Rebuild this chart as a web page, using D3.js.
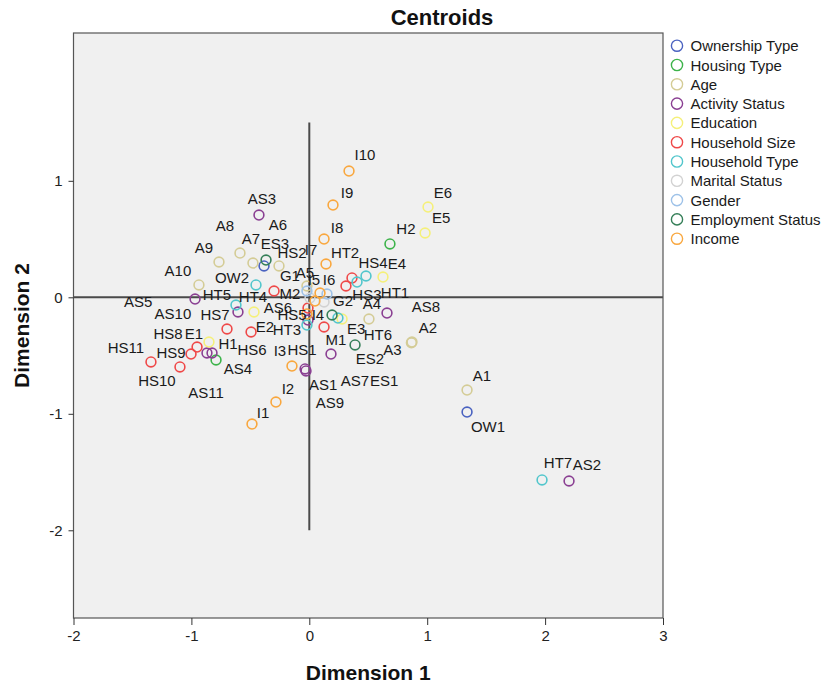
<!DOCTYPE html>
<html><head><meta charset="utf-8">
<script src="https://cdn.jsdelivr.net/npm/d3@7"></script>
<style>
body{margin:0;background:#fff;}
svg{display:block;}
text{font-family:"Liberation Sans",Arial,Helvetica,sans-serif;}
</style>
</head><body>
<svg id="chart" width="824" height="685"></svg>
<script>
// ---------------- data ----------------
const categories = ["Ownership Type","Housing Type","Age","Activity Status","Education",
  "Household Size","Household Type","Marital Status","Gender","Employment Status","Income"];
const xTicks = [-2,-1,0,1,2,3];
const yTicks = [-2,-1,0,1];

const pointLabels = [
  "OW1","OW2",
  "H1","H2",
  "A1","A2","A3","A4","A5","A6","A7","A8","A9","A10",
  "AS1","AS2","AS3","AS4","AS5","AS6","AS7","AS8","AS9","AS10","AS11",
  "E1","E2","E3","E4","E5","E6",
  "HS1","HS2","HS3","HS4","HS5","HS6","HS7","HS8","HS9","HS10","HS11",
  "HT1","HT2","HT3","HT4","HT5","HT6","HT7",
  "M1","M2",
  "G1","G2",
  "ES1","ES2","ES3",
  "I1","I2","I3","I4","I5","I6","I7","I8","I9","I10"
];
const pointCategory = [
  0,0,
  1,1,
  2,2,2,2,2,2,2,2,2,2,
  3,3,3,3,3,3,3,3,3,3,3,
  4,4,4,4,4,4,
  5,5,5,5,5,5,5,5,5,5,5,
  6,6,6,6,6,6,6,
  7,7,
  8,8,
  9,9,9,
  10,10,10,10,10,10,10,10,10,10
];
const dimension1 = [
  1.338,-0.384,
  -0.791,0.684,
  1.338,0.871,0.866,0.506,-0.020,-0.257,-0.478,-0.588,-0.766,-0.936,
  -0.036,2.203,-0.427,-0.825,-0.969,-0.011,0.184,0.659,-0.028,-0.605,-0.868,
  -0.851,-0.469,0.278,0.625,0.982,1.007,
  0.125,-0.299,0.311,0.362,-0.011,-0.494,-0.698,-0.952,-1.003,-1.097,-1.343,
  0.481,0.405,-0.020,-0.452,-0.622,0.243,1.974,
  0.125,0.006,
  -0.020,0.150,
  0.193,0.388,-0.367,
  -0.486,-0.283,-0.147,-0.020,0.048,0.091,0.142,0.125,0.201,0.337
];
const dimension2 = [
  -0.985,0.269,
  -0.538,0.458,
  -0.796,-0.384,-0.390,-0.186,0.097,0.269,0.294,0.380,0.303,0.106,
  -0.615,-1.577,0.706,-0.478,-0.015,-0.195,-0.487,-0.135,-0.632,-0.126,-0.478,
  -0.384,-0.126,-0.186,0.174,0.552,0.775,
  -0.255,0.054,0.097,0.166,-0.092,-0.298,-0.272,-0.427,-0.487,-0.598,-0.555,
  0.183,0.131,-0.238,0.106,-0.066,-0.178,-1.568,
  -0.040,-0.006,
  0.054,0.028,
  -0.152,-0.409,0.320,
  -1.088,-0.899,-0.590,-0.143,-0.032,0.037,0.286,0.500,0.792,1.084
];

// ---------------- styles / layout ----------------
const categoryColors = ["#4a62c0","#3cb34a","#d4cc96","#8a3f92","#f5f07a","#ef4848",
  "#52c6cc","#d2d2d2","#9ec2e8","#357f58","#f9a73e"];
// label placement (pixel offset of label centre from its point)
const labelOffsets = {
  OW1:[21,14],OW2:[-32,12],H1:[12,-16],H2:[16,-15],
  A1:[15,-15],A2:[16,-15],A3:[-19,7],A4:[3,-15],A5:[-2,-14],A6:[-1,-41],A7:[-2,-25],
  A8:[-15,-28],A9:[-15,-15],A10:[-21,-14],
  AS1:[18,16],AS2:[18,-17],AS3:[3,-17],AS4:[26,16],AS5:[-57,2],AS6:[-30,-13],AS7:[24,26],
  AS8:[39,-7],AS9:[24,32],AS10:[-65,2],AS11:[-1,40],
  E1:[-15,-9],E2:[11,15],E3:[14,10],E4:[14,-14],E5:[16,-16],E6:[15,-15],
  HS1:[-22,22],HS2:[18,-39],HS3:[21,8],HS4:[21,-15],HS5:[-16,6],HS6:[1,17],HS7:[-12,-14],
  HS8:[-29,-14],HS9:[-20,-2],HS10:[-23,14],HS11:[-25,-14],
  HT1:[29,17],HT2:[-12,-30],HT3:[-20,4],HT4:[-3,12],HT5:[-19,-10],HT6:[40,16],HT7:[16,-17],
  M1:[12,38],M2:[-20,-5],G1:[-17,-16],G2:[16,6],
  ES1:[52,65],ES2:[15,14],ES3:[9,-17],
  I1:[11,-12],I2:[12,-14],I3:[-12,-16],I4:[11,1],I5:[-1,-22],I6:[9,-14],I7:[-15,-14],
  I8:[13,-12],I9:[14,-13],I10:[16,-17]
};

const svg = d3.select("#chart");
const plot = {left:73.5, right:663, top:33, bottom:618};

const x = d3.scaleLinear().domain([-2,3]).range([plot.left, plot.right]);
const y = d3.scaleLinear().domain([-2.753,2.269]).range([plot.bottom, plot.top]);

// plot background
svg.append("rect")
  .attr("x",plot.left).attr("y",plot.top)
  .attr("width",plot.right-plot.left).attr("height",plot.bottom-plot.top)
  .attr("fill","#f0f0f0");

// reference lines
svg.append("line")
  .attr("x1",x(-2)).attr("x2",x(3)).attr("y1",y(0)).attr("y2",y(0))
  .attr("stroke","#4a4a4a").attr("stroke-width",2);
svg.append("line")
  .attr("x1",x(0)).attr("x2",x(0)).attr("y1",y(1.5)).attr("y2",y(-2))
  .attr("stroke","#4a4a4a").attr("stroke-width",2);

// frame
svg.append("rect")
  .attr("x",plot.left).attr("y",plot.top)
  .attr("width",plot.right-plot.left).attr("height",plot.bottom-plot.top)
  .attr("fill","none").attr("stroke","#555").attr("stroke-width",1.2);

// axes
const xAxis = svg.append("g").attr("transform",`translate(0,${plot.bottom})`)
  .call(d3.axisBottom(x).tickValues(xTicks).tickFormat(d3.format("d")).tickSize(7).tickPadding(5));
const yAxis = svg.append("g").attr("transform",`translate(${plot.left},0)`)
  .call(d3.axisLeft(y).tickValues(yTicks).tickFormat(d3.format("d")).tickSize(5).tickPadding(6));
[xAxis,yAxis].forEach(g=>{
  g.select(".domain").remove();
  g.selectAll("line").attr("stroke","#333");
  g.selectAll("text").attr("font-size","15px").attr("fill","#222")
    .style("font-family","'Liberation Sans',Arial,sans-serif");
});
xAxis.selectAll("text").text(d=>d<0?"-"+Math.abs(d):d);
yAxis.selectAll("text").text(d=>d<0?"-"+Math.abs(d):d);

// points
const points = pointLabels.map((lab,i)=>({label:lab, cat:pointCategory[i], d1:dimension1[i], d2:dimension2[i]}));

svg.append("g").selectAll("circle").data(points).join("circle")
  .attr("cx",d=>x(d.d1)).attr("cy",d=>y(d.d2)).attr("r",4.9)
  .attr("fill","none").attr("stroke",d=>categoryColors[d.cat]).attr("stroke-width",1.6);

svg.append("g").selectAll("text").data(points).join("text")
  .attr("x",d=>x(d.d1)+labelOffsets[d.label][0])
  .attr("y",d=>y(d.d2)+labelOffsets[d.label][1])
  .attr("text-anchor","middle").attr("dominant-baseline","central")
  .attr("font-size","15px").attr("fill","#1a1a1a")
  .text(d=>d.label);

// titles
svg.append("text").attr("x",442).attr("y",25).attr("text-anchor","middle")
  .attr("font-size","22px").attr("font-weight","bold").attr("fill","#111").text("Centroids");
svg.append("text").attr("x",(plot.left+plot.right)/2).attr("y",680).attr("text-anchor","middle")
  .attr("font-size","21px").attr("font-weight","bold").attr("fill","#111").text("Dimension 1");
svg.append("text").attr("transform",`translate(29,${(plot.top+plot.bottom)/2}) rotate(-90)`)
  .attr("text-anchor","middle")
  .attr("font-size","21px").attr("font-weight","bold").attr("fill","#111").text("Dimension 2");

// legend
const legend = svg.append("g");
const leg = legend.selectAll("g").data(categories).join("g")
  .attr("transform",(d,i)=>`translate(677,${45.7+i*19.3})`);
leg.append("circle").attr("r",5.6).attr("fill","none")
  .attr("stroke",(d,i)=>categoryColors[i]).attr("stroke-width",1.4);
leg.append("text").attr("x",13.5).attr("dominant-baseline","central")
  .attr("font-size","15px").attr("fill","#1a1a1a").text(d=>d);
</script>
</body></html>
